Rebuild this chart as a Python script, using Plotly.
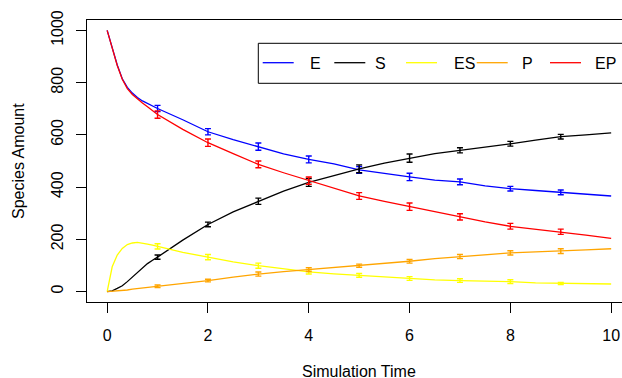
import plotly.graph_objects as go

# ---- data ----
time = [0, 0.1, 0.2, 0.3, 0.4, 0.5, 0.6, 0.7, 0.8, 0.9, 1.0,
        1.5, 2, 2.5, 3, 3.5, 4, 4.5, 5, 5.5, 6, 6.5, 7, 7.5, 8, 8.5, 9, 9.5, 10]
E = [1000, 930, 868, 815, 782, 760, 743, 730, 720, 710, 701,
     658, 612, 582, 555, 527, 506, 489, 466, 452, 439, 427, 420, 405, 394, 387, 380, 373, 366]
S = [0, 3, 12, 22, 38, 55, 73, 91, 107, 120, 132,
     197, 257, 305, 346, 385, 418, 445, 470, 492, 511, 528, 541, 553, 566, 580, 593, 600, 608]
ES = [0, 95, 140, 165, 180, 186, 188, 186, 182, 178, 173,
      150, 132, 114, 99, 86, 75, 68, 62, 56, 50, 45, 42, 40, 38, 33, 31, 30, 29]
P = [0, 1, 2, 4, 6, 9, 11, 13, 15, 17, 20,
     31, 42, 55, 67, 76, 84, 92, 99, 106, 116, 126, 134, 141, 148, 152, 155, 160, 164]
EP = [1000, 930, 866, 813, 777, 755, 737, 722, 708, 692, 678,
      621, 570, 528, 487, 455, 425, 395, 366, 345, 325, 305, 286, 267, 250, 239, 229, 216, 204]

err_times = [1, 2, 3, 4, 5, 6, 7, 8, 9]
E_err = [12, 12, 14, 13, 13, 14, 11, 9, 9]
S_err = [8, 9, 12, 15, 15, 16, 10, 9, 9]
ES_err = [10, 10, 10, 8, 7, 7, 7, 7, 4]
P_err = [5, 5, 8, 7, 6, 7, 8, 8, 9]
EP_err = [14, 14, 13, 14, 13, 14, 12, 11, 10]

names = ["E", "S", "ES", "P", "EP"]
series = [E, S, ES, P, EP]
errors = [E_err, S_err, ES_err, P_err, EP_err]
colors = ["#0000FF", "#000000", "#FFFF00", "#FFA500", "#FF0000"]

x_ticks = [0, 2, 4, 6, 8, 10]
y_ticks = [0, 200, 400, 600, 800, 1000]

FONT = "Liberation Sans, Arial, Helvetica, sans-serif"

# ---- layout geometry (pixels) ----
W, H = 622, 378
ML, MR, MT, MB = 87, 0, 20, 76
PW, PH = W - ML - MR, H - MT - MB


def px(xp):
    return (xp - ML) / PW


def py(yp):
    return (H - MB - yp) / PH


fig = go.Figure()
for name, vals, errs, col in zip(names, series, errors, colors):
    fig.add_trace(go.Scatter(x=time, y=vals, mode="lines", name=name,
                             line=dict(color=col, width=1.3), showlegend=False))
    ey = [vals[time.index(t)] for t in err_times]
    fig.add_trace(go.Scatter(x=err_times, y=ey, mode="markers", showlegend=False,
                             marker=dict(size=1, color=col),
                             error_y=dict(type="data", array=errs, visible=True,
                                          color=col, thickness=1.4, width=3)))

fig.update_layout(
    width=W, height=H,
    margin=dict(l=ML, r=MR, t=MT, b=MB, pad=0),
    paper_bgcolor="white", plot_bgcolor="white",
    font=dict(family=FONT, size=16, color="black"),
    showlegend=False,
)
fig.update_xaxes(range=[-0.4, -0.4 + PW / 50.4], tickvals=x_ticks,
                 ticktext=[str(v) for v in x_ticks],
                 showgrid=False, zeroline=False, showline=True, mirror=True,
                 linecolor="black", linewidth=1, ticks="outside", ticklen=10,
                 tickcolor="black", tickwidth=1, ticklabelstandoff=9,
                 tickfont=dict(family=FONT, size=16))
fig.update_yaxes(range=[-40, 1040], tickvals=y_ticks,
                 ticktext=[str(v) for v in y_ticks],
                 showgrid=False, zeroline=False, showline=True, mirror=False,
                 linecolor="black", linewidth=1, ticks="outside", ticklen=10,
                 tickcolor="black", tickwidth=1, tickangle=-90, ticklabelstandoff=7,
                 tickfont=dict(family=FONT, size=16))

# axis titles
fig.add_annotation(x=px(359), y=py(371), xref="paper", yref="paper",
                   text="Simulation Time", showarrow=False,
                   xanchor="center", yanchor="middle", font=dict(size=16))
fig.add_annotation(x=px(18), y=py(161), xref="paper", yref="paper",
                   text="Species Amount", showarrow=False, textangle=-90,
                   xanchor="center", yanchor="middle", font=dict(size=16))

# legend box (drawn manually, R-style horizontal legend)
fig.add_shape(type="rect", xref="paper", yref="paper",
              x0=px(258.3), x1=px(660), y0=py(83.3), y1=py(43.3),
              line=dict(color="black", width=1), fillcolor="white", layer="above")
line_x0 = [262.7, 334.3, 406, 476.7, 550]
text_x0 = [308, 373, 451.7, 520, 593.3]
for name, col, lx, tx in zip(names, colors, line_x0, text_x0):
    fig.add_shape(type="line", xref="paper", yref="paper",
                  x0=px(lx), x1=px(lx + 31), y0=py(62.7), y1=py(62.7),
                  line=dict(color=col, width=1.3), layer="above")
    fig.add_annotation(x=px(tx), y=py(63), xref="paper", yref="paper",
                       text=name, showarrow=False, xanchor="left", yanchor="middle",
                       font=dict(size=16))

fig.write_html("out.html", config={"displayModeBar": False},
               post_script="document.body.style.margin='0';document.body.style.overflow='hidden';")
